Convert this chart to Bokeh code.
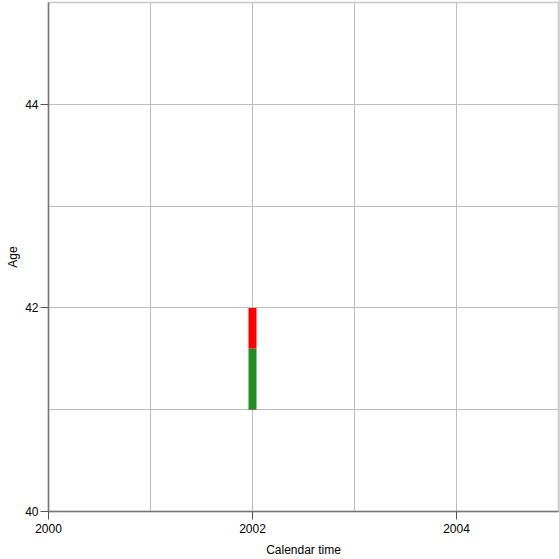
from bokeh.plotting import figure
from bokeh.models import FixedTicker, ColumnDataSource, Range1d
from bokeh.embed import file_html
from bokeh.resources import INLINE

# data
seg_x = [2002, 2002]
seg_start = [41.0, 41.6]
seg_end = [41.6, 42.0]
seg_colors = ["#228B22", "#FF0000"]
x_ticks = [2000, 2002, 2004]
y_ticks = [40, 42, 44]
x_grid = [2000, 2001, 2002, 2003, 2004, 2005]
y_grid = [40, 41, 42, 43, 44, 45]

p = figure(width=559, height=559, output_backend="svg", toolbar_location=None,
           x_range=Range1d(2000, 2005), y_range=Range1d(40, 45),
           min_border_left=48, min_border_right=1, min_border_top=2, min_border_bottom=47)
p.background_fill_color = "white"
p.border_fill_color = "white"
p.outline_line_color = "#c8c8c8"
p.outline_line_width = 1.5

src = ColumnDataSource(dict(x=seg_x, y0=seg_start, y1=seg_end, c=seg_colors))
p.segment(x0="x", y0="y0", x1="x", y1="y1", color="c", line_width=8, line_cap="butt", source=src)

for ax, ticks in ((p.xaxis[0], x_ticks), (p.yaxis[0], y_ticks)):
    ax.ticker = FixedTicker(ticks=ticks)
    ax.axis_line_color = "#777777"
    ax.axis_line_width = 1.5
    ax.major_tick_line_color = "#555555"
    ax.major_tick_in = 0
    ax.major_tick_out = 8
    ax.minor_tick_line_color = None
    ax.major_label_text_font = "Liberation Sans"
    ax.major_label_text_font_size = "12px"
    ax.major_label_text_color = "black"
    ax.axis_label_text_font = "Liberation Sans"
    ax.axis_label_text_font_size = "12px"
    ax.axis_label_text_font_style = "normal"
    ax.axis_label_text_color = "black"

p.xaxis.axis_label = "Calendar time"
p.yaxis.axis_label = "Age"
p.xaxis.major_label_standoff = 4
p.xaxis.axis_label_standoff = 7
p.yaxis.major_label_standoff = 2
p.yaxis.axis_label_standoff = 2
p.yaxis.major_label_orientation = "horizontal"

p.xgrid.ticker = FixedTicker(ticks=x_grid)
p.ygrid.ticker = FixedTicker(ticks=y_grid)
p.grid.grid_line_color = "#bdbdbd"
p.grid.grid_line_width = 1

open("out.html", "w").write(file_html(p, INLINE))
